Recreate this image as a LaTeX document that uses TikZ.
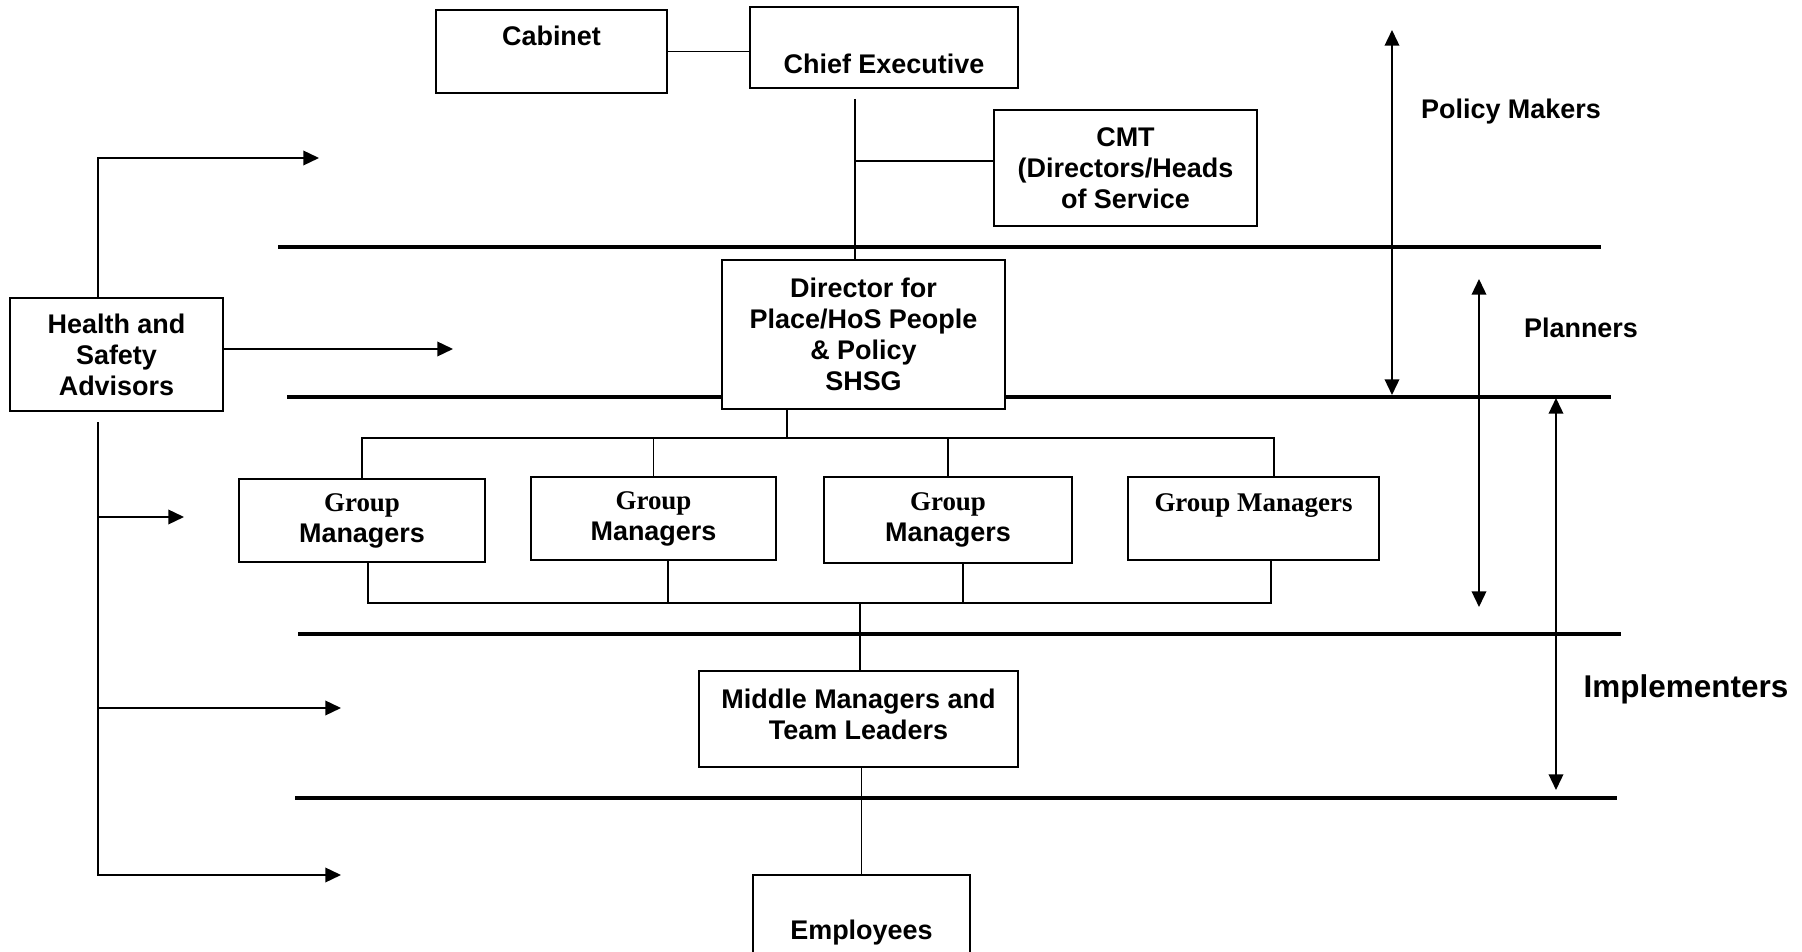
\documentclass[tikz,border=0pt]{standalone}
\usepackage{fontspec}
\setmainfont{Liberation Sans}
\newfontfamily\tms{Liberation Serif}
\usetikzlibrary{arrows.meta}
\tikzset{
  unit/.style={draw, fill=white, line width=0.9pt, inner sep=2pt, align=center,
    font=\fontsize{12}{13.8}\selectfont\bfseries},
  band/.style={font=\fontsize{12}{13.8}\selectfont\bfseries},
  rule/.style={line width=1.8pt},
  link/.style={line width=0.8pt},
}
\begin{document}
\begin{tikzpicture}[x=0.445pt,y=-0.445pt,>={Triangle[length=7pt,width=6.5pt]}]
\useasboundingbox (0,0) rectangle (1802,952);
\clip (0,0) rectangle (1802,952);
% level rules
\draw[rule] (278,247) -- (1601,247);
\draw[rule] (287,397) -- (1611,397);
\draw[rule] (298,634) -- (1621,634);
\draw[rule] (295,798) -- (1617,798);
% boxes
\node[unit,minimum width=102.8pt,minimum height=36.9pt] (cab) at (551.5,51.5) {Cabinet\\\mbox{}};
\node[unit,minimum width=119.3pt,minimum height=36pt] (ce) at (884,47.5) {\strut\\Chief Executive};
\node[unit,minimum width=117pt,minimum height=51.6pt] (cmt) at (1125.5,168) {CMT\\(Directors/Heads\\of Service};
\node[unit,minimum width=125.9pt,minimum height=66.3pt] (dir) at (863.5,334.5) {Director for\\Place/HoS People\\\& Policy\\SHSG};
\node[unit,minimum width=94.8pt,minimum height=50.3pt] (hsa) at (116.5,354.5) {Health and\\Safety\\Advisors};
\node[unit,minimum width=109.5pt,minimum height=36.9pt] (gm1) at (362,520.5) {{\tms Group}\\Managers};
\node[unit,minimum width=109pt,minimum height=36.9pt] (gm2) at (653.5,518.5) {{\tms Group}\\Managers};
\node[unit,minimum width=110.4pt,minimum height=38.3pt] (gm3) at (948,520) {{\tms Group}\\Managers};
\node[unit,minimum width=111.7pt,minimum height=36.9pt] (gm4) at (1253.5,518.5) {{\tms Group Managers}\\\mbox{}};
\node[unit,minimum width=142pt,minimum height=42.7pt] (mm) at (858.5,719) {Middle Managers and\\Team Leaders\\[-9.2pt]\mbox{}};
\node[unit,minimum width=96.6pt,minimum height=51.6pt] (emp) at (861.5,933) {Employees};
% chain of command
\coordinate (spine) at (855,99);
\coordinate (tb) at (787,438);
\coordinate (bb) at (860,603);
\draw[link] (cab.east) -- (cab.east -| ce.west);
\draw[link] (spine) -- (spine |- dir.north);
\draw[link] ([yshift=3pt]spine |- cmt.west) -- ([yshift=3pt]cmt.west);
\draw[link] (dir.south -| tb) -- (tb) -| (gm1.north);
\draw[link] (tb) -| (gm2.north);
\draw[link] (tb) -| (gm3.north);
\draw[link] (tb) -| ([xshift=9pt]gm4.north);
\draw[link] ([xshift=2.7pt]gm1.south) |- (bb);
\draw[link] ([xshift=6.5pt]gm2.south) |- (bb);
\draw[link] ([xshift=6.7pt]gm3.south) |- (bb);
\draw[link] ([xshift=7.8pt]gm4.south) |- (bb);
\draw[link] (bb) -- (bb |- mm.north);
\draw[link] (emp.north |- mm.south) -- (emp.north);
% advice lines
\coordinate (t1) at (319,158);
\coordinate (t2) at (453,349);
\coordinate (t3) at (184,517);
\coordinate (t4) at (341,708);
\coordinate (t5) at (341,875);
\coordinate (sp) at ([xshift=-8.2pt,yshift=-4.5pt]hsa.south);
\draw[link,->] ([xshift=-8.2pt]hsa.north) |- (t1);
\draw[link,->] (hsa.east |- t2) -- (t2);
\draw[link,->] (sp) |- (t5);
\draw[link,->] (sp |- t3) -- (t3);
\draw[link,->] (sp |- t4) -- (t4);
% bands
\draw[link,<->] (1392,30) -- (1392,395);
\draw[link,<->] (1479,279) -- (1479,607);
\draw[link,<->] (1556,398) -- (1556,790);
\node[band] (pm) at (1511,112) {Policy Makers};
\node[band] (pl) at (1581,328) {Planners};
\node[band,font=\fontsize{14}{16}\selectfont\bfseries] (im) at (1686,689) {Implementers};
\end{tikzpicture}
\end{document}
